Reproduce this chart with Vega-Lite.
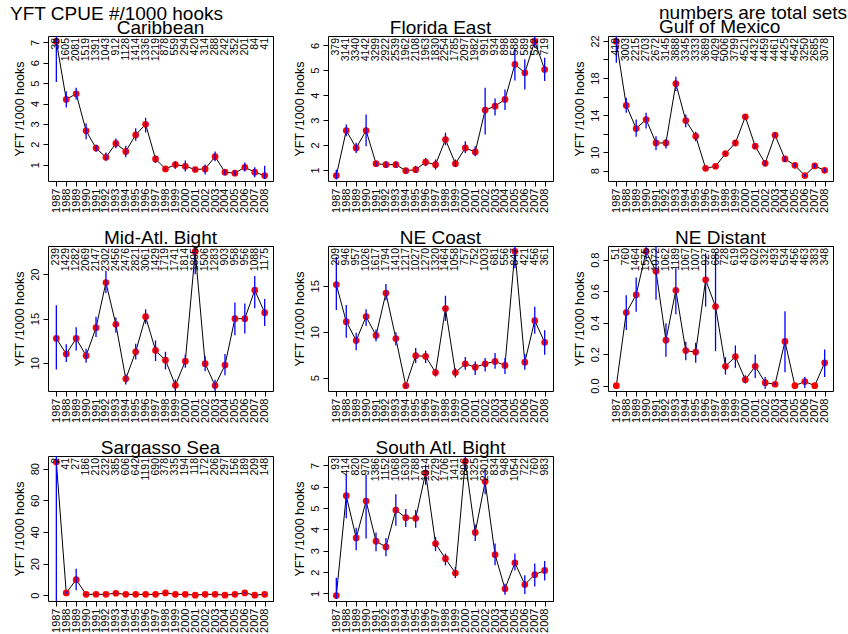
{
"$schema": "https://vega.github.io/schema/vega-lite/v6.json",
"background": "white",
"padding": {"left": 10, "top": 3, "right": 2, "bottom": 2},
"title": {"text": "YFT CPUE #/1000 hooks", "anchor": "start", "frame": "group", "dx": -38, "offset": -21},
"columns": 3,
"spacing": {"row": 65, "column": 55},
"bounds": "flush",
"datasets": {"cpue": [
{"region":"Caribbean","year":1987,"cpue":7.05,"lo":5.05,"hi":9.05,"n":38},
{"region":"Caribbean","year":1988,"cpue":4.2,"lo":3.8,"hi":4.6,"n":1605},
{"region":"Caribbean","year":1989,"cpue":4.48,"lo":4.2,"hi":4.77,"n":2081},
{"region":"Caribbean","year":1990,"cpue":2.66,"lo":2.25,"hi":3.03,"n":1519},
{"region":"Caribbean","year":1991,"cpue":1.81,"lo":1.63,"hi":1.98,"n":1391},
{"region":"Caribbean","year":1992,"cpue":1.36,"lo":1.2,"hi":1.6,"n":1043},
{"region":"Caribbean","year":1993,"cpue":2.04,"lo":1.8,"hi":2.28,"n":912},
{"region":"Caribbean","year":1994,"cpue":1.65,"lo":1.36,"hi":1.93,"n":1128},
{"region":"Caribbean","year":1995,"cpue":2.46,"lo":2.17,"hi":2.79,"n":1414},
{"region":"Caribbean","year":1996,"cpue":2.98,"lo":2.58,"hi":3.3,"n":1336},
{"region":"Caribbean","year":1997,"cpue":1.28,"lo":1.08,"hi":1.44,"n":1219},
{"region":"Caribbean","year":1998,"cpue":0.79,"lo":0.71,"hi":0.87,"n":878},
{"region":"Caribbean","year":1999,"cpue":1.0,"lo":0.79,"hi":1.16,"n":559},
{"region":"Caribbean","year":2000,"cpue":0.92,"lo":0.66,"hi":1.2,"n":294},
{"region":"Caribbean","year":2001,"cpue":0.76,"lo":0.66,"hi":0.87,"n":420},
{"region":"Caribbean","year":2002,"cpue":0.79,"lo":0.51,"hi":1.0,"n":314},
{"region":"Caribbean","year":2003,"cpue":1.39,"lo":1.16,"hi":1.65,"n":288},
{"region":"Caribbean","year":2004,"cpue":0.63,"lo":0.46,"hi":0.76,"n":242},
{"region":"Caribbean","year":2005,"cpue":0.58,"lo":0.46,"hi":0.71,"n":352},
{"region":"Caribbean","year":2006,"cpue":0.87,"lo":0.66,"hi":1.11,"n":201},
{"region":"Caribbean","year":2007,"cpue":0.63,"lo":0.38,"hi":0.87,"n":84},
{"region":"Caribbean","year":2008,"cpue":0.46,"lo":0.3,"hi":0.95,"n":41},
{"region":"Florida East","year":1987,"cpue":0.77,"lo":0.61,"hi":1.01,"n":379},
{"region":"Florida East","year":1988,"cpue":2.58,"lo":2.35,"hi":2.82,"n":3141},
{"region":"Florida East","year":1989,"cpue":1.88,"lo":1.68,"hi":2.09,"n":3340},
{"region":"Florida East","year":1990,"cpue":2.58,"lo":1.95,"hi":3.22,"n":4142},
{"region":"Florida East","year":1991,"cpue":1.25,"lo":1.15,"hi":1.35,"n":3299},
{"region":"Florida East","year":1992,"cpue":1.21,"lo":1.08,"hi":1.35,"n":2922},
{"region":"Florida East","year":1993,"cpue":1.21,"lo":1.08,"hi":1.35,"n":2539},
{"region":"Florida East","year":1994,"cpue":0.97,"lo":0.85,"hi":1.08,"n":1962},
{"region":"Florida East","year":1995,"cpue":1.01,"lo":0.88,"hi":1.17,"n":2108},
{"region":"Florida East","year":1996,"cpue":1.31,"lo":1.15,"hi":1.48,"n":1963},
{"region":"Florida East","year":1997,"cpue":1.21,"lo":1.01,"hi":1.42,"n":1830},
{"region":"Florida East","year":1998,"cpue":2.22,"lo":1.99,"hi":2.49,"n":2254},
{"region":"Florida East","year":1999,"cpue":1.25,"lo":1.11,"hi":1.42,"n":1785},
{"region":"Florida East","year":2000,"cpue":1.88,"lo":1.68,"hi":2.15,"n":2097},
{"region":"Florida East","year":2001,"cpue":1.72,"lo":1.55,"hi":1.95,"n":1982},
{"region":"Florida East","year":2002,"cpue":3.4,"lo":2.42,"hi":4.3,"n":991},
{"region":"Florida East","year":2003,"cpue":3.56,"lo":3.18,"hi":3.87,"n":934},
{"region":"Florida East","year":2004,"cpue":3.83,"lo":3.4,"hi":4.23,"n":898},
{"region":"Florida East","year":2005,"cpue":5.24,"lo":4.59,"hi":5.87,"n":588},
{"region":"Florida East","year":2006,"cpue":4.9,"lo":4.23,"hi":5.44,"n":589},
{"region":"Florida East","year":2007,"cpue":6.16,"lo":5.9,"hi":6.45,"n":522},
{"region":"Florida East","year":2008,"cpue":5.03,"lo":4.57,"hi":5.5,"n":719},
{"region":"Gulf of Mexico","year":1987,"cpue":21.95,"lo":19.66,"hi":24.2,"n":419},
{"region":"Gulf of Mexico","year":1988,"cpue":15.05,"lo":14.25,"hi":15.87,"n":3003},
{"region":"Gulf of Mexico","year":1989,"cpue":12.56,"lo":11.66,"hi":13.53,"n":2215},
{"region":"Gulf of Mexico","year":1990,"cpue":13.53,"lo":12.56,"hi":14.25,"n":2703},
{"region":"Gulf of Mexico","year":1991,"cpue":11.0,"lo":10.22,"hi":11.73,"n":2672},
{"region":"Gulf of Mexico","year":1992,"cpue":11.0,"lo":10.4,"hi":11.44,"n":3145},
{"region":"Gulf of Mexico","year":1993,"cpue":17.39,"lo":16.6,"hi":18.14,"n":3888},
{"region":"Gulf of Mexico","year":1994,"cpue":13.42,"lo":12.7,"hi":14.07,"n":3345},
{"region":"Gulf of Mexico","year":1995,"cpue":11.73,"lo":11.19,"hi":12.2,"n":3333},
{"region":"Gulf of Mexico","year":1996,"cpue":8.27,"lo":8.05,"hi":8.49,"n":3689},
{"region":"Gulf of Mexico","year":1997,"cpue":8.49,"lo":8.27,"hi":8.67,"n":4029},
{"region":"Gulf of Mexico","year":1998,"cpue":9.86,"lo":9.57,"hi":10.11,"n":5006},
{"region":"Gulf of Mexico","year":1999,"cpue":11.0,"lo":10.65,"hi":11.3,"n":3799},
{"region":"Gulf of Mexico","year":2000,"cpue":13.82,"lo":13.53,"hi":14.07,"n":4521},
{"region":"Gulf of Mexico","year":2001,"cpue":10.65,"lo":10.36,"hi":10.94,"n":4432},
{"region":"Gulf of Mexico","year":2002,"cpue":8.81,"lo":8.49,"hi":9.14,"n":4459},
{"region":"Gulf of Mexico","year":2003,"cpue":11.84,"lo":11.55,"hi":12.09,"n":4461},
{"region":"Gulf of Mexico","year":2004,"cpue":9.28,"lo":8.95,"hi":9.57,"n":4425},
{"region":"Gulf of Mexico","year":2005,"cpue":8.59,"lo":8.38,"hi":8.85,"n":4542},
{"region":"Gulf of Mexico","year":2006,"cpue":7.48,"lo":7.3,"hi":7.69,"n":3250},
{"region":"Gulf of Mexico","year":2007,"cpue":8.52,"lo":8.31,"hi":8.77,"n":2685},
{"region":"Gulf of Mexico","year":2008,"cpue":8.05,"lo":7.84,"hi":8.27,"n":3078},
{"region":"Mid-Atl. Bight","year":1987,"cpue":12.75,"lo":9.25,"hi":16.5,"n":239},
{"region":"Mid-Atl. Bight","year":1988,"cpue":11.0,"lo":10.1,"hi":12.1,"n":1429},
{"region":"Mid-Atl. Bight","year":1989,"cpue":12.75,"lo":11.4,"hi":14.0,"n":1282},
{"region":"Mid-Atl. Bight","year":1990,"cpue":10.8,"lo":10.0,"hi":11.6,"n":2069},
{"region":"Mid-Atl. Bight","year":1991,"cpue":13.96,"lo":12.9,"hi":15.2,"n":2147},
{"region":"Mid-Atl. Bight","year":1992,"cpue":19.06,"lo":17.85,"hi":20.4,"n":2302},
{"region":"Mid-Atl. Bight","year":1993,"cpue":14.34,"lo":13.4,"hi":15.1,"n":2456},
{"region":"Mid-Atl. Bight","year":1994,"cpue":8.19,"lo":7.55,"hi":8.7,"n":2476},
{"region":"Mid-Atl. Bight","year":1995,"cpue":11.25,"lo":10.38,"hi":12.15,"n":2821},
{"region":"Mid-Atl. Bight","year":1996,"cpue":15.2,"lo":14.4,"hi":16.04,"n":3061},
{"region":"Mid-Atl. Bight","year":1997,"cpue":11.4,"lo":10.2,"hi":12.53,"n":1429},
{"region":"Mid-Atl. Bight","year":1998,"cpue":10.3,"lo":9.25,"hi":11.25,"n":1719},
{"region":"Mid-Atl. Bight","year":1999,"cpue":7.47,"lo":6.8,"hi":8.1,"n":1741},
{"region":"Mid-Atl. Bight","year":2000,"cpue":10.19,"lo":9.43,"hi":10.94,"n":1814},
{"region":"Mid-Atl. Bight","year":2001,"cpue":22.57,"lo":20.0,"hi":25.5,"n":1895},
{"region":"Mid-Atl. Bight","year":2002,"cpue":9.9,"lo":9.06,"hi":10.75,"n":1506},
{"region":"Mid-Atl. Bight","year":2003,"cpue":7.43,"lo":6.7,"hi":8.1,"n":1283},
{"region":"Mid-Atl. Bight","year":2004,"cpue":9.74,"lo":8.6,"hi":11.0,"n":903},
{"region":"Mid-Atl. Bight","year":2005,"cpue":14.98,"lo":13.1,"hi":16.8,"n":958},
{"region":"Mid-Atl. Bight","year":2006,"cpue":14.98,"lo":13.3,"hi":16.7,"n":956},
{"region":"Mid-Atl. Bight","year":2007,"cpue":18.19,"lo":16.15,"hi":19.8,"n":1088},
{"region":"Mid-Atl. Bight","year":2008,"cpue":15.66,"lo":14.15,"hi":17.2,"n":1175},
{"region":"NE Coast","year":1987,"cpue":15.13,"lo":12.38,"hi":18.13,"n":209},
{"region":"NE Coast","year":1988,"cpue":11.1,"lo":9.34,"hi":12.9,"n":946},
{"region":"NE Coast","year":1989,"cpue":9.05,"lo":7.99,"hi":9.89,"n":957},
{"region":"NE Coast","year":1990,"cpue":11.65,"lo":10.62,"hi":12.45,"n":1026},
{"region":"NE Coast","year":1991,"cpue":9.6,"lo":8.97,"hi":10.26,"n":1617},
{"region":"NE Coast","year":1992,"cpue":14.21,"lo":13.44,"hi":15.2,"n":1794},
{"region":"NE Coast","year":1993,"cpue":9.27,"lo":8.5,"hi":9.96,"n":1410},
{"region":"NE Coast","year":1994,"cpue":4.14,"lo":3.85,"hi":4.4,"n":1217},
{"region":"NE Coast","year":1995,"cpue":7.4,"lo":6.6,"hi":8.24,"n":1027},
{"region":"NE Coast","year":1996,"cpue":7.33,"lo":6.6,"hi":7.95,"n":1270},
{"region":"NE Coast","year":1997,"cpue":5.57,"lo":5.13,"hi":5.97,"n":1320},
{"region":"NE Coast","year":1998,"cpue":12.53,"lo":11.17,"hi":13.92,"n":1464},
{"region":"NE Coast","year":1999,"cpue":5.57,"lo":5.02,"hi":6.04,"n":1058},
{"region":"NE Coast","year":2000,"cpue":6.52,"lo":5.86,"hi":7.25,"n":757},
{"region":"NE Coast","year":2001,"cpue":6.15,"lo":5.31,"hi":6.78,"n":752},
{"region":"NE Coast","year":2002,"cpue":6.52,"lo":5.68,"hi":7.14,"n":1003},
{"region":"NE Coast","year":2003,"cpue":6.78,"lo":5.97,"hi":7.69,"n":681},
{"region":"NE Coast","year":2004,"cpue":6.34,"lo":5.42,"hi":7.14,"n":556},
{"region":"NE Coast","year":2005,"cpue":18.75,"lo":16.92,"hi":20.5,"n":847},
{"region":"NE Coast","year":2006,"cpue":6.7,"lo":5.86,"hi":7.58,"n":421},
{"region":"NE Coast","year":2007,"cpue":11.21,"lo":9.78,"hi":12.71,"n":456},
{"region":"NE Coast","year":2008,"cpue":8.86,"lo":7.51,"hi":10.18,"n":361},
{"region":"NE Distant","year":1987,"cpue":0.0,"lo":0.0,"hi":0.0,"n":51},
{"region":"NE Distant","year":1988,"cpue":0.464,"lo":0.353,"hi":0.574,"n":760},
{"region":"NE Distant","year":1989,"cpue":0.577,"lo":0.47,"hi":0.687,"n":1464},
{"region":"NE Distant","year":1990,"cpue":0.853,"lo":0.8,"hi":0.95,"n":1575},
{"region":"NE Distant","year":1991,"cpue":0.726,"lo":0.545,"hi":0.9,"n":1072},
{"region":"NE Distant","year":1992,"cpue":0.289,"lo":0.183,"hi":0.396,"n":1062},
{"region":"NE Distant","year":1993,"cpue":0.606,"lo":0.453,"hi":0.745,"n":1189},
{"region":"NE Distant","year":1994,"cpue":0.223,"lo":0.162,"hi":0.279,"n":1067},
{"region":"NE Distant","year":1995,"cpue":0.213,"lo":0.145,"hi":0.272,"n":1007},
{"region":"NE Distant","year":1996,"cpue":0.672,"lo":0.502,"hi":0.84,"n":927},
{"region":"NE Distant","year":1997,"cpue":0.502,"lo":0.219,"hi":0.847,"n":688},
{"region":"NE Distant","year":1998,"cpue":0.123,"lo":0.07,"hi":0.181,"n":728},
{"region":"NE Distant","year":1999,"cpue":0.185,"lo":0.113,"hi":0.255,"n":619},
{"region":"NE Distant","year":2000,"cpue":0.038,"lo":0.013,"hi":0.066,"n":430},
{"region":"NE Distant","year":2001,"cpue":0.123,"lo":0.049,"hi":0.198,"n":602},
{"region":"NE Distant","year":2002,"cpue":0.019,"lo":-0.019,"hi":0.055,"n":332},
{"region":"NE Distant","year":2003,"cpue":0.009,"lo":0.0,"hi":0.021,"n":493},
{"region":"NE Distant","year":2004,"cpue":0.281,"lo":0.085,"hi":0.472,"n":534},
{"region":"NE Distant","year":2005,"cpue":0.0,"lo":0.0,"hi":0.0,"n":456},
{"region":"NE Distant","year":2006,"cpue":0.026,"lo":-0.015,"hi":0.055,"n":463},
{"region":"NE Distant","year":2007,"cpue":0.0,"lo":0.0,"hi":0.0,"n":383},
{"region":"NE Distant","year":2008,"cpue":0.145,"lo":0.055,"hi":0.23,"n":348},
{"region":"Sargasso Sea","year":1987,"cpue":84.2,"lo":-50,"hi":250,"n":2},
{"region":"Sargasso Sea","year":1988,"cpue":1.5,"lo":0.8,"hi":2.5,"n":41},
{"region":"Sargasso Sea","year":1989,"cpue":9.9,"lo":3.2,"hi":16.8,"n":27},
{"region":"Sargasso Sea","year":1990,"cpue":0.6,"lo":0.3,"hi":0.9,"n":186},
{"region":"Sargasso Sea","year":1991,"cpue":0.6,"lo":0.3,"hi":0.9,"n":210},
{"region":"Sargasso Sea","year":1992,"cpue":0.6,"lo":0.3,"hi":0.9,"n":232},
{"region":"Sargasso Sea","year":1993,"cpue":1.3,"lo":0.9,"hi":1.7,"n":385},
{"region":"Sargasso Sea","year":1994,"cpue":0.6,"lo":0.3,"hi":0.9,"n":606},
{"region":"Sargasso Sea","year":1995,"cpue":0.6,"lo":0.3,"hi":0.9,"n":642},
{"region":"Sargasso Sea","year":1996,"cpue":0.6,"lo":0.4,"hi":0.8,"n":1191},
{"region":"Sargasso Sea","year":1997,"cpue":0.6,"lo":0.3,"hi":0.9,"n":690},
{"region":"Sargasso Sea","year":1998,"cpue":1.5,"lo":1.0,"hi":2.0,"n":378},
{"region":"Sargasso Sea","year":1999,"cpue":0.6,"lo":0.3,"hi":0.9,"n":335},
{"region":"Sargasso Sea","year":2000,"cpue":0.6,"lo":0.3,"hi":0.9,"n":194},
{"region":"Sargasso Sea","year":2001,"cpue":0.1,"lo":0.0,"hi":0.3,"n":118},
{"region":"Sargasso Sea","year":2002,"cpue":0.6,"lo":0.3,"hi":0.9,"n":172},
{"region":"Sargasso Sea","year":2003,"cpue":0.6,"lo":0.3,"hi":0.9,"n":206},
{"region":"Sargasso Sea","year":2004,"cpue":0.1,"lo":0.0,"hi":0.3,"n":297},
{"region":"Sargasso Sea","year":2005,"cpue":0.6,"lo":0.3,"hi":0.9,"n":156},
{"region":"Sargasso Sea","year":2006,"cpue":1.5,"lo":1.0,"hi":2.0,"n":189},
{"region":"Sargasso Sea","year":2007,"cpue":0.1,"lo":0.0,"hi":0.3,"n":209},
{"region":"Sargasso Sea","year":2008,"cpue":0.6,"lo":0.3,"hi":0.9,"n":148},
{"region":"South Atl. Bight","year":1987,"cpue":0.9,"lo":0.75,"hi":1.74,"n":93},
{"region":"South Atl. Bight","year":1988,"cpue":5.58,"lo":4.52,"hi":6.56,"n":414},
{"region":"South Atl. Bight","year":1989,"cpue":3.6,"lo":3.03,"hi":4.08,"n":820},
{"region":"South Atl. Bight","year":1990,"cpue":5.33,"lo":3.57,"hi":6.56,"n":970},
{"region":"South Atl. Bight","year":1991,"cpue":3.45,"lo":2.98,"hi":3.86,"n":1386},
{"region":"South Atl. Bight","year":1992,"cpue":3.18,"lo":2.74,"hi":3.6,"n":1152},
{"region":"South Atl. Bight","year":1993,"cpue":4.91,"lo":4.17,"hi":5.65,"n":1068},
{"region":"South Atl. Bight","year":1994,"cpue":4.55,"lo":4.12,"hi":4.96,"n":1630},
{"region":"South Atl. Bight","year":1995,"cpue":4.52,"lo":4.08,"hi":4.91,"n":1788},
{"region":"South Atl. Bight","year":1996,"cpue":6.64,"lo":6.09,"hi":7.03,"n":1914},
{"region":"South Atl. Bight","year":1997,"cpue":3.34,"lo":2.98,"hi":3.65,"n":2729},
{"region":"South Atl. Bight","year":1998,"cpue":2.63,"lo":2.32,"hi":2.87,"n":1706},
{"region":"South Atl. Bight","year":1999,"cpue":1.96,"lo":1.72,"hi":2.24,"n":1411},
{"region":"South Atl. Bight","year":2000,"cpue":7.19,"lo":6.79,"hi":7.47,"n":1896},
{"region":"South Atl. Bight","year":2001,"cpue":3.86,"lo":3.46,"hi":4.23,"n":1325},
{"region":"South Atl. Bight","year":2002,"cpue":6.24,"lo":5.65,"hi":6.82,"n":2301},
{"region":"South Atl. Bight","year":2003,"cpue":2.82,"lo":2.32,"hi":3.34,"n":834},
{"region":"South Atl. Bight","year":2004,"cpue":1.22,"lo":0.94,"hi":1.46,"n":948},
{"region":"South Atl. Bight","year":2005,"cpue":2.44,"lo":2.08,"hi":2.87,"n":1054},
{"region":"South Atl. Bight","year":2006,"cpue":1.42,"lo":0.98,"hi":1.85,"n":722},
{"region":"South Atl. Bight","year":2007,"cpue":1.88,"lo":1.33,"hi":2.4,"n":760},
{"region":"South Atl. Bight","year":2008,"cpue":2.08,"lo":1.61,"hi":2.52,"n":983}
]},
"concat": [
{"title": {"text": "Caribbean", "anchor": "middle"}, "width": 225, "height": 145, "data": {"name": "cpue"},
 "transform": [{"filter": "datum.region == 'Caribbean'"}],
 "encoding": {"x": {"field": "year", "type": "ordinal", "scale": {"type": "point", "padding": 0.84}, "axis": {"title": null}},
   "y": {"field": "cpue", "type": "quantitative", "scale": {"domain": [0.196, 7.314], "nice": false, "zero": false}, "axis": {"title": "YFT /1000 hooks", "values": [1,2,3,4,5,6,7]}}},
 "layer": [
  {"mark": {"type": "line", "color": "black", "strokeWidth": 1, "clip": true}, "encoding": {}},
  {"mark": {"type": "point", "filled": true, "color": "red", "size": 45, "opacity": 1, "clip": true}, "encoding": {}},
  {"mark": {"type": "rule", "color": "blue", "strokeWidth": 1.3, "clip": true}, "encoding": {"y": {"field": "lo", "type": "quantitative", "scale": {"domain": [0.196, 7.314], "nice": false, "zero": false}, "axis": {"title": "YFT /1000 hooks", "values": [1,2,3,4,5,6,7]}}, "y2": {"field": "hi"}}},
  {"mark": {"type": "text", "angle": 270, "align": "right", "baseline": "middle", "fontSize": 10.5, "font": "Liberation Sans"}, "encoding": {"text": {"field": "n"}, "y": {"value": 2}}}
 ]},
{"title": {"text": "Florida East", "anchor": "middle"}, "width": 225, "height": 145, "data": {"name": "cpue"},
 "transform": [{"filter": "datum.region == 'Florida East'"}],
 "encoding": {"x": {"field": "year", "type": "ordinal", "scale": {"type": "point", "padding": 0.84}, "axis": {"title": null}},
   "y": {"field": "cpue", "type": "quantitative", "scale": {"domain": [0.554, 6.376], "nice": false, "zero": false}, "axis": {"title": "YFT /1000 hooks", "values": [1,2,3,4,5,6]}}},
 "layer": [
  {"mark": {"type": "line", "color": "black", "strokeWidth": 1, "clip": true}, "encoding": {}},
  {"mark": {"type": "point", "filled": true, "color": "red", "size": 45, "opacity": 1, "clip": true}, "encoding": {}},
  {"mark": {"type": "rule", "color": "blue", "strokeWidth": 1.3, "clip": true}, "encoding": {"y": {"field": "lo", "type": "quantitative", "scale": {"domain": [0.554, 6.376], "nice": false, "zero": false}, "axis": {"title": "YFT /1000 hooks", "values": [1,2,3,4,5,6]}}, "y2": {"field": "hi"}}},
  {"mark": {"type": "text", "angle": 270, "align": "right", "baseline": "middle", "fontSize": 10.5, "font": "Liberation Sans"}, "encoding": {"text": {"field": "n"}, "y": {"value": 2}}}
 ]},
{"title": {"text": ["numbers are total sets", "Gulf of Mexico"], "anchor": "start", "align": "left", "dx": 51, "lineHeight": 14}, "width": 225, "height": 145, "data": {"name": "cpue"},
 "transform": [{"filter": "datum.region == 'Gulf of Mexico'"}],
 "encoding": {"x": {"field": "year", "type": "ordinal", "scale": {"type": "point", "padding": 0.84}, "axis": {"title": null}},
   "y": {"field": "cpue", "type": "quantitative", "scale": {"domain": [6.9, 22.53], "nice": false, "zero": false}, "axis": {"title": "YFT /1000 hooks", "values": [8,10,12,14,16,18,20,22], "labelExpr": "indexof([12,16,20], datum.value) >= 0 ? '' : datum.label"}}},
 "layer": [
  {"mark": {"type": "line", "color": "black", "strokeWidth": 1, "clip": true}, "encoding": {}},
  {"mark": {"type": "point", "filled": true, "color": "red", "size": 45, "opacity": 1, "clip": true}, "encoding": {}},
  {"mark": {"type": "rule", "color": "blue", "strokeWidth": 1.3, "clip": true}, "encoding": {"y": {"field": "lo", "type": "quantitative", "scale": {"domain": [6.9, 22.53], "nice": false, "zero": false}, "axis": {"title": "YFT /1000 hooks", "values": [8,10,12,14,16,18,20,22], "labelExpr": "indexof([12,16,20], datum.value) >= 0 ? '' : datum.label"}}, "y2": {"field": "hi"}}},
  {"mark": {"type": "text", "angle": 270, "align": "right", "baseline": "middle", "fontSize": 10.5, "font": "Liberation Sans"}, "encoding": {"text": {"field": "n"}, "y": {"value": 2}}}
 ]},
{"title": {"text": "Mid-Atl. Bight", "anchor": "middle"}, "width": 225, "height": 145, "data": {"name": "cpue"},
 "transform": [{"filter": "datum.region == 'Mid-Atl. Bight'"}],
 "encoding": {"x": {"field": "year", "type": "ordinal", "scale": {"type": "point", "padding": 0.84}, "axis": {"title": null}},
   "y": {"field": "cpue", "type": "quantitative", "scale": {"domain": [6.82, 23.18], "nice": false, "zero": false}, "axis": {"title": "YFT /1000 hooks", "values": [10,15,20]}}},
 "layer": [
  {"mark": {"type": "line", "color": "black", "strokeWidth": 1, "clip": true}, "encoding": {}},
  {"mark": {"type": "point", "filled": true, "color": "red", "size": 45, "opacity": 1, "clip": true}, "encoding": {}},
  {"mark": {"type": "rule", "color": "blue", "strokeWidth": 1.3, "clip": true}, "encoding": {"y": {"field": "lo", "type": "quantitative", "scale": {"domain": [6.82, 23.18], "nice": false, "zero": false}, "axis": {"title": "YFT /1000 hooks", "values": [10,15,20]}}, "y2": {"field": "hi"}}},
  {"mark": {"type": "text", "angle": 270, "align": "right", "baseline": "middle", "fontSize": 10.5, "font": "Liberation Sans"}, "encoding": {"text": {"field": "n"}, "y": {"value": 2}}}
 ]},
{"title": {"text": "NE Coast", "anchor": "middle"}, "width": 225, "height": 145, "data": {"name": "cpue"},
 "transform": [{"filter": "datum.region == 'NE Coast'"}],
 "encoding": {"x": {"field": "year", "type": "ordinal", "scale": {"type": "point", "padding": 0.84}, "axis": {"title": null}},
   "y": {"field": "cpue", "type": "quantitative", "scale": {"domain": [3.56, 19.33], "nice": false, "zero": false}, "axis": {"title": "YFT /1000 hooks", "values": [5,10,15]}}},
 "layer": [
  {"mark": {"type": "line", "color": "black", "strokeWidth": 1, "clip": true}, "encoding": {}},
  {"mark": {"type": "point", "filled": true, "color": "red", "size": 45, "opacity": 1, "clip": true}, "encoding": {}},
  {"mark": {"type": "rule", "color": "blue", "strokeWidth": 1.3, "clip": true}, "encoding": {"y": {"field": "lo", "type": "quantitative", "scale": {"domain": [3.56, 19.33], "nice": false, "zero": false}, "axis": {"title": "YFT /1000 hooks", "values": [5,10,15]}}, "y2": {"field": "hi"}}},
  {"mark": {"type": "text", "angle": 270, "align": "right", "baseline": "middle", "fontSize": 10.5, "font": "Liberation Sans"}, "encoding": {"text": {"field": "n"}, "y": {"value": 2}}}
 ]},
{"title": {"text": "NE Distant", "anchor": "middle"}, "width": 225, "height": 145, "data": {"name": "cpue"},
 "transform": [{"filter": "datum.region == 'NE Distant'"}],
 "encoding": {"x": {"field": "year", "type": "ordinal", "scale": {"type": "point", "padding": 0.84}, "axis": {"title": null}},
   "y": {"field": "cpue", "type": "quantitative", "scale": {"domain": [-0.034, 0.887], "nice": false, "zero": false}, "axis": {"title": "YFT /1000 hooks", "values": [0,0.2,0.4,0.6,0.8], "format": ".1f"}}},
 "layer": [
  {"mark": {"type": "line", "color": "black", "strokeWidth": 1, "clip": true}, "encoding": {}},
  {"mark": {"type": "point", "filled": true, "color": "red", "size": 45, "opacity": 1, "clip": true}, "encoding": {}},
  {"mark": {"type": "rule", "color": "blue", "strokeWidth": 1.3, "clip": true}, "encoding": {"y": {"field": "lo", "type": "quantitative", "scale": {"domain": [-0.034, 0.887], "nice": false, "zero": false}, "axis": {"title": "YFT /1000 hooks", "values": [0,0.2,0.4,0.6,0.8], "format": ".1f"}}, "y2": {"field": "hi"}}},
  {"mark": {"type": "text", "angle": 270, "align": "right", "baseline": "middle", "fontSize": 10.5, "font": "Liberation Sans"}, "encoding": {"text": {"field": "n"}, "y": {"value": 2}}}
 ]},
{"title": {"text": "Sargasso Sea", "anchor": "middle"}, "width": 225, "height": 145, "data": {"name": "cpue"},
 "transform": [{"filter": "datum.region == 'Sargasso Sea'"}],
 "encoding": {"x": {"field": "year", "type": "ordinal", "scale": {"type": "point", "padding": 0.84}, "axis": {"title": null}},
   "y": {"field": "cpue", "type": "quantitative", "scale": {"domain": [-3.6, 88], "nice": false, "zero": false}, "axis": {"title": "YFT /1000 hooks", "values": [0,20,40,60,80]}}},
 "layer": [
  {"mark": {"type": "line", "color": "black", "strokeWidth": 1, "clip": true}, "encoding": {}},
  {"mark": {"type": "point", "filled": true, "color": "red", "size": 45, "opacity": 1, "clip": true}, "encoding": {}},
  {"mark": {"type": "rule", "color": "blue", "strokeWidth": 1.3, "clip": true}, "encoding": {"y": {"field": "lo", "type": "quantitative", "scale": {"domain": [-3.6, 88], "nice": false, "zero": false}, "axis": {"title": "YFT /1000 hooks", "values": [0,20,40,60,80]}}, "y2": {"field": "hi"}}},
  {"mark": {"type": "text", "angle": 270, "align": "right", "baseline": "middle", "fontSize": 10.5, "font": "Liberation Sans"}, "encoding": {"text": {"field": "n"}, "y": {"value": 2}}}
 ]},
{"title": {"text": "South Atl. Bight", "anchor": "middle"}, "width": 225, "height": 145, "data": {"name": "cpue"},
 "transform": [{"filter": "datum.region == 'South Atl. Bight'"}],
 "encoding": {"x": {"field": "year", "type": "ordinal", "scale": {"type": "point", "padding": 0.84}, "axis": {"title": null}},
   "y": {"field": "cpue", "type": "quantitative", "scale": {"domain": [0.648, 7.44], "nice": false, "zero": false}, "axis": {"title": "YFT /1000 hooks", "values": [1,2,3,4,5,6,7]}}},
 "layer": [
  {"mark": {"type": "line", "color": "black", "strokeWidth": 1, "clip": true}, "encoding": {}},
  {"mark": {"type": "point", "filled": true, "color": "red", "size": 45, "opacity": 1, "clip": true}, "encoding": {}},
  {"mark": {"type": "rule", "color": "blue", "strokeWidth": 1.3, "clip": true}, "encoding": {"y": {"field": "lo", "type": "quantitative", "scale": {"domain": [0.648, 7.44], "nice": false, "zero": false}, "axis": {"title": "YFT /1000 hooks", "values": [1,2,3,4,5,6,7]}}, "y2": {"field": "hi"}}},
  {"mark": {"type": "text", "angle": 270, "align": "right", "baseline": "middle", "fontSize": 10.5, "font": "Liberation Sans"}, "encoding": {"text": {"field": "n"}, "y": {"value": 2}}}
 ]}
],
"config": {
 "font": "Liberation Sans",
 "view": {"stroke": "black", "strokeWidth": 1},
 "axis": {"domain": false, "grid": false, "tickColor": "black", "tickSize": 5, "labelColor": "black", "labelFont": "Liberation Sans", "labelFontSize": 11, "labelOverlap": false, "titleColor": "black", "titleFont": "Liberation Sans", "titleFontSize": 12.5, "titleFontWeight": "normal"},
 "axisX": {"labelAngle": 270, "labelPadding": 2},
 "axisY": {"labelAngle": 270, "labelAlign": "center", "labelBaseline": "bottom", "labelPadding": 3, "titlePadding": 3},
 "title": {"fontSize": 19, "fontWeight": "normal", "font": "Liberation Sans", "color": "black", "offset": -2, "frame": "group"}
}
}
